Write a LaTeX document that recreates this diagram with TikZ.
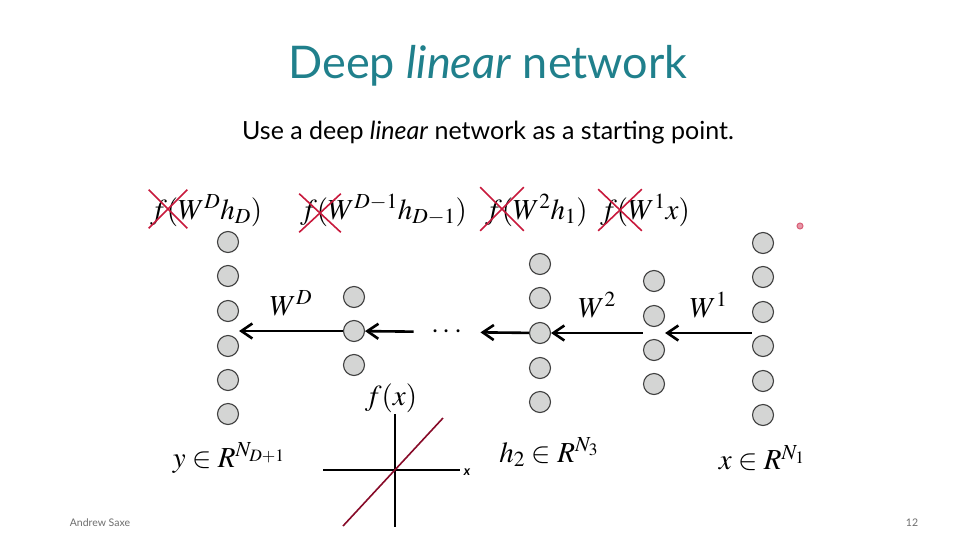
\documentclass[tikz,border=0pt]{standalone}
\usepackage{mathptmx}
\usepackage{fontspec}
\setmainfont{Liberation Serif}
\newfontfamily\slidefont{Lato}
\usetikzlibrary{arrows.meta,calc,shapes.misc}
\definecolor{slideteal}{RGB}{32,128,140}
\definecolor{crossred}{RGB}{200,25,60}
\definecolor{linered}{RGB}{135,10,40}
\definecolor{cellgray}{RGB}{212,213,212}
\definecolor{footgray}{RGB}{110,110,110}

\begin{document}
\begin{tikzpicture}[x=1pt,y=-1pt,
    neuron/.style ={circle, draw=black!75, fill=cellgray, line width=1.1pt, inner sep=0pt, minimum size=21pt},
    weight/.style ={line width=2.6pt, -{Straight Barb[length=11pt,width=15pt,line width=2.6pt]}},
    layer/.style ={font=\fontsize{29}{32}\selectfont, inner sep=0pt},
    nolinear/.style ={cross out, draw=crossred, line width=1.6pt, inner sep=0pt}]
   \fill[white] (0,0) rectangle (976,549);
   \useasboundingbox (0,0) rectangle (976,549);

   % title
   \node[font=\slidefont\fontsize{45}{50}\selectfont, text=slideteal] (title) at (488,66) {Deep \textit{linear} network};
   \node[font=\slidefont\fontsize{25}{29}\selectfont] (subtitle) at (488,133) {Use a deep \textit{linear} network as a starting point.};

   % layer functions
   \node[layer, anchor=base west] (FD)  at (150,219) {$f(W^D h_D)$};
   \node[layer, anchor=base west] (FD1) at (300,219) {$f(W^{D-1} h_{D-1})$};
   \node[layer, anchor=base west] (F2)  at (485,219) {$f(W^2 h_1)$};
   \node[layer, anchor=base west] (F1)  at (600,219) {$f(W^1 x)$};
   \node[nolinear, minimum width=37pt, minimum height=37pt] (XD)  at (168,209) {};
   \node[nolinear, minimum width=40pt, minimum height=37pt] (XD1) at (320,213) {};
   \node[nolinear, minimum width=42pt, minimum height=42pt] (X2)  at (502,209) {};
   \node[nolinear, minimum width=42pt, minimum height=40pt] (X1)  at (620,210) {};
   \node[circle, draw=crossred!70, fill=crossred!45, line width=1pt, inner sep=0pt, minimum size=6pt] (pointer) at (800,226) {};

   % output layer
   \node[neuron] (Y1) at (228,242) {};
   \node[neuron] (Y2) at (228,276) {};
   \node[neuron] (Y3) at (228,311) {};
   \node[neuron] (Y4) at (228,346) {};
   \node[neuron] (Y5) at (228,380) {};
   \node[neuron] (Y6) at (228,414) {};
   % layer D
   \node[neuron] (A1) at (354,297) {};
   \node[neuron] (A2) at (354,331) {};
   \node[neuron] (A3) at (354,365) {};
   % layer 2
   \node[neuron] (B1) at (540,264) {};
   \node[neuron] (B2) at (540,298) {};
   \node[neuron] (B3) at (540,333) {};
   \node[neuron] (B4) at (540,368) {};
   \node[neuron] (B5) at (540,402) {};
   % layer 1
   \node[neuron] (C1) at (654,281) {};
   \node[neuron] (C2) at (654,316) {};
   \node[neuron] (C3) at (654,350) {};
   \node[neuron] (C4) at (654,384) {};
   % input layer
   \node[neuron] (X1) at (763,243) {};
   \node[neuron] (X2) at (763,277) {};
   \node[neuron] (X3) at (763,312) {};
   \node[neuron] (X4) at (763,346) {};
   \node[neuron] (X5) at (763,381) {};
   \node[neuron] (X6) at (763,415) {};

   \node[layer, inner xsep=18pt] (dots) at (447,332) {$\cdots$};

   \draw[weight] (X3.west |- B3) -- (C2.east |- B3) node[midway, above=14pt, layer] {$W^1$};
   \draw[weight] (C2.west |- B3) -- (B3) node[midway, above=14pt, layer] {$W^2$};
   \draw[weight] (B3) -- (dots);
   \draw[weight] (dots) -- (A2);
   \draw[weight] (A2) -- (Y3.east |- A2) node[midway, above=14pt, layer] {$W^D$};

   % layer sizes
   \node[layer] (ysize) at (229,458) {$y\in R^{N_{D+1}}$};
   \node[layer] (hsize) at (549,452) {$h_2\in R^{N_3}$};
   \node[layer] (xsize) at (762,458) {$x\in R^{N_1}$};

   % linear activation
   \node[layer] (fx) at (391,398) {$f(x)$};
   \draw[line width=1.4pt] (395,414) -- (395,527);
   \draw[line width=1.4pt] (323,470) -- (460,470);
   \draw[linered, line width=1.6pt] (343,526) -- (443,418);
   \node[font=\slidefont\bfseries\itshape\fontsize{13}{15}\selectfont, inner sep=0pt] (xaxis) at (467,472) {x};

   % footer
   \node[font=\slidefont\fontsize{10.5}{12}\selectfont, text=footgray] (author) at (100,523) {Andrew Saxe};
   \node[font=\slidefont\fontsize{10.5}{12}\selectfont, text=footgray] (page) at (912,523) {12};
 \end{tikzpicture}
\end{document}
